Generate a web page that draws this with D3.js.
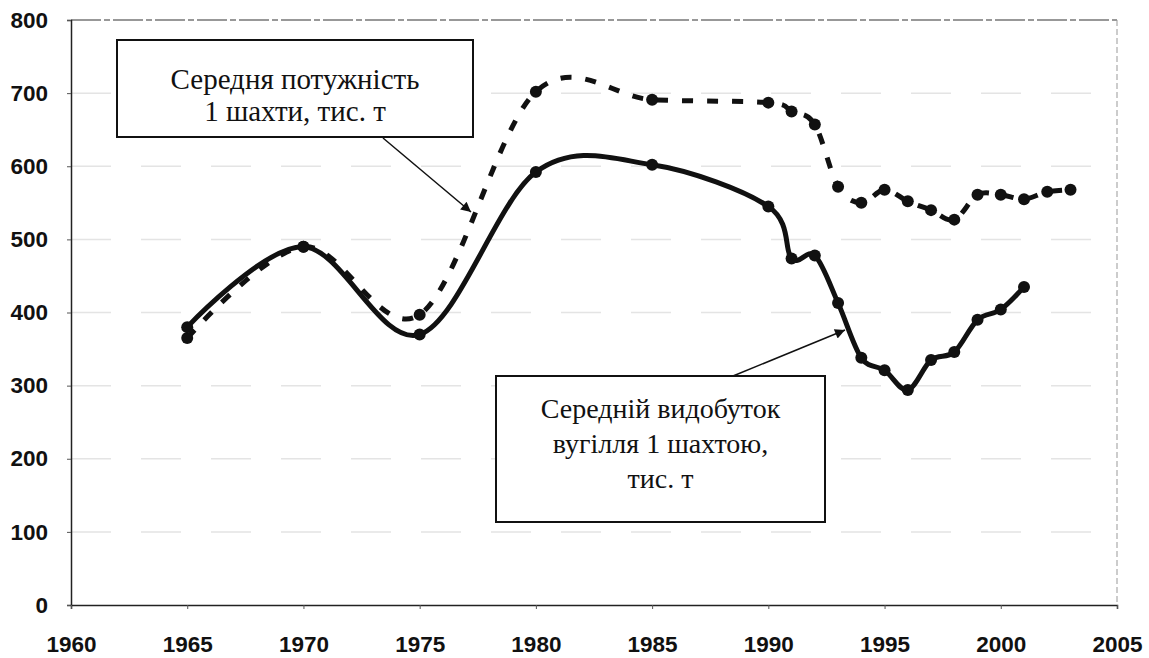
<!DOCTYPE html>
<html lang="uk">
<head>
  <meta charset="UTF-8">
  <title>Шахти</title>
  <script src="https://cdn.jsdelivr.net/npm/d3@7"></script>
  <style>
    body{ margin:0; background:#fff;}
    svg{ display:block; background:#fff;}
  </style>
</head>
<body>
<div class="chart"></div>
<script>
// середня потужність 1 шахти (пунктир)
const capYears = [1965, 1970, 1975, 1980, 1985, 1990, 1991, 1992, 1993, 1994, 1995, 1996, 1997, 1998, 1999, 2000, 2001, 2002, 2003];
const capValues = [365, 490, 397, 702, 691, 687, 675, 657, 572, 550, 568, 552, 540, 527, 561, 561, 555, 565, 568];
// середній видобуток 1 шахтою (суцільна)
const prodYears = [1965, 1970, 1975, 1980, 1985, 1990, 1991, 1992, 1993, 1994, 1995, 1996, 1997, 1998, 1999, 2000, 2001];
const prodValues = [380, 490, 370, 592, 602, 545, 474, 478, 413, 338, 321, 294, 335, 346, 390, 404, 435];
const xTicks = [1960, 1965, 1970, 1975, 1980, 1985, 1990, 1995, 2000, 2005];
const yTicks = [0, 100, 200, 300, 400, 500, 600, 700, 800];
const capLabel = ['Середня потужність', '1 шахти, тис. т'];
const prodLabel = ['Середній видобуток', 'вугілля 1 шахтою,', 'тис. т'];

const W = 1149, H = 658;
const svg = d3.select('.chart').append('svg').attr('width', W).attr('height', H);

const x = d3.scaleLinear().domain([1960, 2005]).range([71, 1117]);
const y = d3.scaleLinear().domain([0, 800]).range([605, 20]);

// сітка
svg.append('g').selectAll('line').data(yTicks.filter(d => d > 0 && d < 800)).join('line')
  .attr('x1', x(1960)).attr('x2', x(2005)).attr('y1', d => y(d)).attr('y2', d => y(d))
  .attr('stroke', '#e4e4e4').attr('stroke-width', 1.5).attr('stroke-dasharray', '40,30');
// рамка
svg.append('line').attr('x1', x(1960)).attr('x2', x(2005)).attr('y1', y(800)).attr('y2', y(800))
  .attr('stroke', '#777').attr('stroke-width', 1.5).attr('stroke-dasharray', '30,3,6,3');
svg.append('line').attr('x1', x(2005)).attr('x2', x(2005)).attr('y1', y(800)).attr('y2', y(0))
  .attr('stroke', '#999').attr('stroke-width', 1).attr('stroke-dasharray', '6,3');

const yAxis = d3.axisLeft(y).tickValues(yTicks).tickSize(4).tickPadding(19);
const xAxis = d3.axisBottom(x).tickValues(xTicks).tickSize(4).tickPadding(27).tickFormat(d3.format('d'));

const gy = svg.append('g').attr('transform', `translate(${x(1960)},0)`).call(yAxis);
const gx = svg.append('g').attr('transform', `translate(0,${y(0)})`).call(xAxis);
[gx, gy].forEach(g => {
  g.select('.domain').attr('stroke', '#222').attr('stroke-width', 1.5);
  g.selectAll('.tick line').attr('stroke', '#555');
  g.selectAll('text').attr('font-family', 'Liberation Sans, Arial, sans-serif')
    .attr('font-weight', 'bold').attr('font-size', 22.5).attr('fill', '#111');
});

const line = d3.line().x(d => x(d[0])).y(d => y(d[1])).curve(d3.curveCardinal.tension(0));
const cap = capYears.map((d, i) => [d, capValues[i]]);
const prod = prodYears.map((d, i) => [d, prodValues[i]]);

svg.append('path').datum(cap).attr('d', line).attr('fill', 'none')
  .attr('stroke', '#111').attr('stroke-width', 5).attr('stroke-dasharray', '11,14');
svg.append('path').datum(prod).attr('d', line).attr('fill', 'none')
  .attr('stroke', '#111').attr('stroke-width', 5);

svg.append('g').selectAll('circle').data(cap).join('circle')
  .attr('cx', d => x(d[0])).attr('cy', d => y(d[1])).attr('r', 6).attr('fill', '#111');
svg.append('g').selectAll('circle').data(prod).join('circle')
  .attr('cx', d => x(d[0])).attr('cy', d => y(d[1])).attr('r', 6).attr('fill', '#111');

// підписи з стрілками
svg.append('defs').append('marker').attr('id', 'arr').attr('viewBox', '0 0 10 10')
  .attr('refX', 10).attr('refY', 5).attr('markerWidth', 14).attr('markerHeight', 10)
  .attr('markerUnits', 'userSpaceOnUse').attr('orient', 'auto')
  .append('path').attr('d', 'M0,0L10,5L0,10z').attr('fill', '#111');

function callout(lines, box, baselines, size, from, to){
  svg.append('line').attr('x1', from[0]).attr('y1', from[1]).attr('x2', to[0]).attr('y2', to[1])
    .attr('stroke', '#111').attr('stroke-width', 1.5).attr('marker-end', 'url(#arr)');
  svg.append('rect').attr('x', box[0]).attr('y', box[1]).attr('width', box[2]).attr('height', box[3])
    .attr('fill', '#fff').attr('stroke', '#111').attr('stroke-width', 2);
  svg.append('g').selectAll('text').data(lines).join('text')
    .attr('x', box[0] + box[2] / 2).attr('y', (d, i) => baselines[i])
    .attr('text-anchor', 'middle').attr('font-family', 'Liberation Serif, Times New Roman, serif')
    .attr('font-size', size).attr('fill', '#111').text(d => d);
}
callout(capLabel, [117, 40, 356, 97], [89, 121], 29, [383, 138], [471, 212]);
callout(prodLabel, [496, 376, 329, 146], [418, 453, 488], 28, [733, 376], [845, 330]);
</script>
</body>
</html>
